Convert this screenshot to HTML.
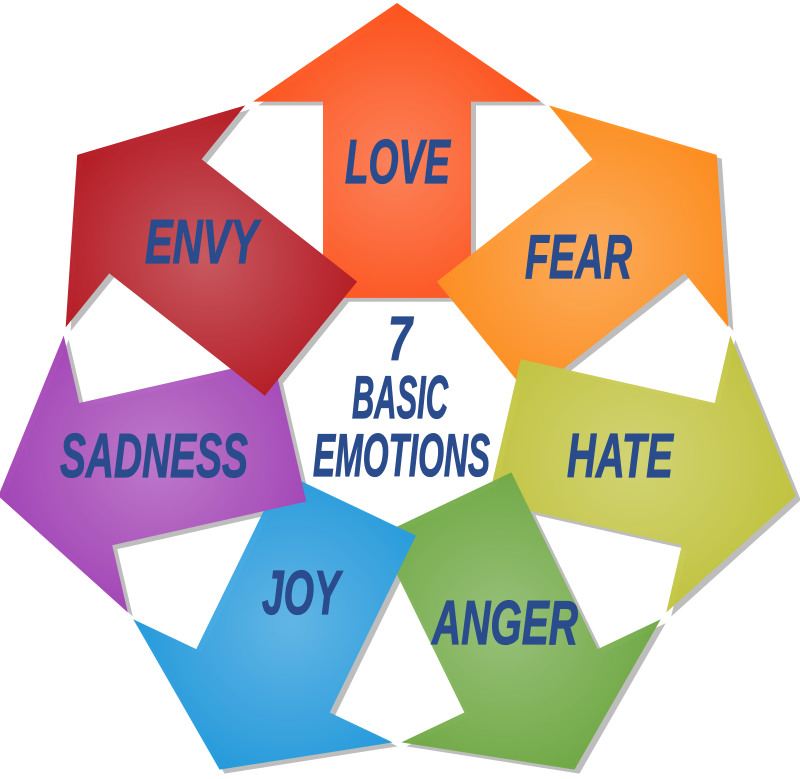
<!DOCTYPE html>
<html><head><meta charset="utf-8"><style>
html,body{margin:0;padding:0;background:#fff;width:800px;height:779px;overflow:hidden}
svg{display:block}
text{font-family:"Liberation Sans Narrow","Liberation Sans",sans-serif;font-weight:bold;font-style:italic;fill:#2b4c8c;stroke:#2b4c8c;stroke-width:1.2}
</style></head><body>
<svg width="800" height="779" viewBox="0 0 800 779">
<defs>
<path id="arr" d="M397,3 L541,103 L471,103 L471,302 L323,302 L323,103 L253,103 Z"/>
<radialGradient id="hl" cx="0.5" cy="0.55" r="0.6">
<stop offset="0" stop-color="#fff" stop-opacity="0.3"/>
<stop offset="1" stop-color="#fff" stop-opacity="0"/>
</radialGradient>
</defs>
<g transform="translate(0,0.05) scale(1,0.986)">
<g fill="#888" opacity="0.55">
<use href="#arr" transform="translate(5,4) rotate(0,397,412)"/>
<use href="#arr" transform="translate(5,4) rotate(51.43,397,412)"/>
<use href="#arr" transform="translate(5,4) rotate(102.86,397,412)"/>
<use href="#arr" transform="translate(5,4) rotate(154.29,397,412)"/>
<use href="#arr" transform="translate(5,4) rotate(205.71,397,412)"/>
<use href="#arr" transform="translate(5,4) rotate(257.14,397,412)"/>
<use href="#arr" transform="translate(5,4) rotate(308.57,397,412)"/>
</g>
<g opacity="0.96">
<g transform="rotate(0,397,412)"><use href="#arr" fill="#ff4a10"/><use href="#arr" fill="url(#hl)"/></g>
<g transform="rotate(51.43,397,412)"><use href="#arr" fill="#ff8812"/><use href="#arr" fill="url(#hl)"/></g>
<g transform="rotate(102.86,397,412)"><use href="#arr" fill="#c0c236"/><use href="#arr" fill="url(#hl)"/></g>
<g transform="rotate(154.29,397,412)"><use href="#arr" fill="#6aa63c"/><use href="#arr" fill="url(#hl)"/></g>
<g transform="rotate(205.71,397,412)"><use href="#arr" fill="#1a96dc"/><use href="#arr" fill="url(#hl)"/></g>
<g transform="rotate(257.14,397,412)"><use href="#arr" fill="#a03cb4"/><use href="#arr" fill="url(#hl)"/></g>
<g transform="rotate(308.57,397,412)"><use href="#arr" fill="#b20e18"/><use href="#arr" fill="url(#hl)"/></g>
</g>
</g>
<text x="345" y="183" font-size="62" textLength="105" lengthAdjust="spacingAndGlyphs">LOVE</text>
<text x="145" y="263" font-size="62" textLength="113" lengthAdjust="spacingAndGlyphs">ENVY</text>
<text x="525" y="278" font-size="62" textLength="107" lengthAdjust="spacingAndGlyphs">FEAR</text>
<text x="60" y="477" font-size="62" textLength="188" lengthAdjust="spacingAndGlyphs">SADNESS</text>
<text x="567" y="477" font-size="62" textLength="106" lengthAdjust="spacingAndGlyphs">HATE</text>
<text x="262" y="614" font-size="62" textLength="78" lengthAdjust="spacingAndGlyphs">JOY</text>
<text x="432" y="644" font-size="62" textLength="146" lengthAdjust="spacingAndGlyphs">ANGER</text>
<text x="388" y="360" font-size="62" textLength="24" lengthAdjust="spacingAndGlyphs">7</text>
<text x="352" y="418" font-size="60" textLength="96" lengthAdjust="spacingAndGlyphs">BASIC</text>
<text x="313" y="476" font-size="60" textLength="177" lengthAdjust="spacingAndGlyphs">EMOTIONS</text>
</svg>
</body></html>
